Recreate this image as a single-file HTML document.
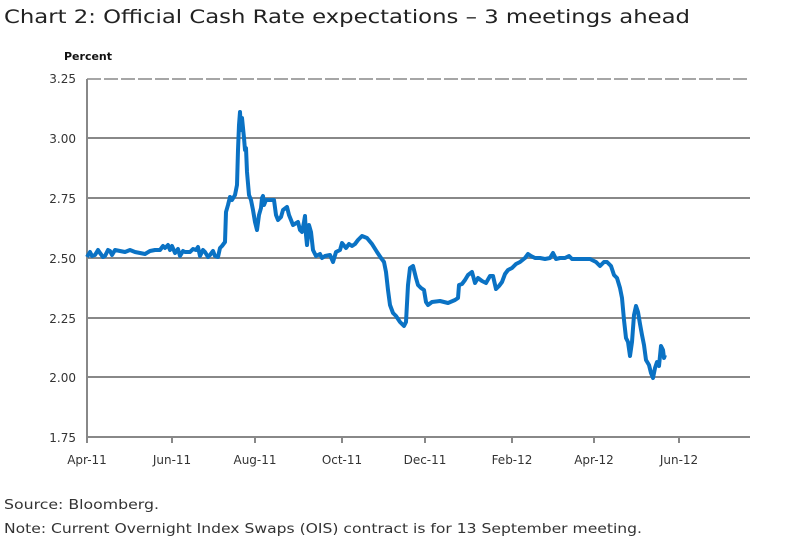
<!DOCTYPE html>
<html><head><meta charset="utf-8"><style>
html,body{margin:0;padding:0;background:#fff;}
svg{display:block;}
</style></head><body>
<svg width="800" height="546" viewBox="0 0 800 546" xmlns="http://www.w3.org/2000/svg">
<text x="4" y="23" font-family="DejaVu Sans, Liberation Sans, sans-serif" font-size="19" fill="#222" textLength="686" lengthAdjust="spacingAndGlyphs">Chart 2:  Official Cash Rate expectations – 3 meetings ahead</text>
<text x="64" y="60" font-family="DejaVu Sans, Liberation Sans, sans-serif" font-size="11" font-weight="bold" fill="#111">Percent</text>
<line x1="87" y1="79" x2="750" y2="79" stroke="#888" stroke-width="1.5" stroke-dasharray="14,3"/>
<g stroke="#888" stroke-width="2">
<line x1="87" y1="138" x2="750" y2="138"/>
<line x1="87" y1="198" x2="750" y2="198"/>
<line x1="87" y1="258" x2="750" y2="258"/>
<line x1="87" y1="318" x2="750" y2="318"/>
<line x1="87" y1="377" x2="750" y2="377"/>
<line x1="87" y1="437" x2="750" y2="437"/>
<line x1="87" y1="79" x2="87" y2="437"/>
<line x1="87" y1="437" x2="87" y2="443"/>
<line x1="172" y1="437" x2="172" y2="443"/>
<line x1="255" y1="437" x2="255" y2="443"/>
<line x1="342" y1="437" x2="342" y2="443"/>
<line x1="425" y1="437" x2="425" y2="443"/>
<line x1="512" y1="437" x2="512" y2="443"/>
<line x1="594" y1="437" x2="594" y2="443"/>
<line x1="679" y1="437" x2="679" y2="443"/>
</g>
<g font-family="DejaVu Sans, Liberation Sans, sans-serif" font-size="12" fill="#333" text-anchor="end">
<text x="76" y="83">3.25</text><text x="76" y="143">3.00</text><text x="76" y="203">2.75</text>
<text x="76" y="263">2.50</text><text x="76" y="323">2.25</text><text x="76" y="382">2.00</text><text x="76" y="442">1.75</text>
</g>
<g font-family="DejaVu Sans, Liberation Sans, sans-serif" font-size="12" fill="#333" text-anchor="middle">
<text x="87" y="464">Apr-11</text><text x="172" y="464">Jun-11</text><text x="255" y="464">Aug-11</text>
<text x="342" y="464">Oct-11</text><text x="425" y="464">Dec-11</text><text x="512" y="464">Feb-12</text>
<text x="594" y="464">Apr-12</text><text x="679" y="464">Jun-12</text>
</g>
<polyline fill="none" stroke="#0a72c4" stroke-width="4" stroke-linejoin="round" points="87,257 90,252 92,256 95,255 98,250 100,253 103,257 105,256 108,250 110,251 112,255 115,250 120,251 125,252 130,250 135,252 140,253 145,254 150,251 155,250 160,250 163,246 165,248 168,245 170,250 172,246 175,253 178,249 180,256 183,251 185,252 190,252 193,249 196,250 198,247 200,256 203,250 205,252 208,257 210,255 213,251 215,256 218,257 220,248 222,246 225,242 226,212 228,205 230,197 232,200 235,195 237,185 238,150 239,125 240,112 241,130 242,118 243,128 244,138 245,150 246,148 247,172 249,195 251,200 253,210 255,222 257,230 259,215 261,208 262,198 263,196 264,205 266,200 268,200 274,200 276,215 278,220 281,217 283,210 287,207 289,215 291,220 293,225 298,222 300,230 302,232 304,222 305,216 306,235 307,245 309,225 311,232 313,250 316,256 320,254 322,258 325,256 330,255 333,262 336,252 340,250 342,243 346,248 349,244 352,246 355,244 358,240 362,236 367,238 372,244 377,252 381,258 384,262 386,272 388,290 390,305 393,313 396,316 400,322 404,326 406,322 408,285 410,268 413,266 416,278 418,285 421,288 424,290 426,302 428,305 432,302 440,301 448,303 455,300 458,298 459,285 462,284 465,280 468,275 472,272 475,283 478,278 482,281 486,283 490,276 493,276 496,289 499,286 502,282 505,274 508,270 512,268 516,264 520,262 525,258 528,254 531,256 535,258 540,258 545,259 550,258 553,253 556,259 560,258 565,258 569,256 572,259 580,259 590,259 596,262 600,266 604,262 607,262 611,266 614,275 617,278 620,288 622,298 624,320 626,338 628,342 630,356 632,342 634,315 636,306 638,312 640,324 642,335 644,345 646,360 649,365 651,373 653,378 655,368 657,362 659,366 661,346 663,350 664,358 665,355"/>
<text x="4" y="509" font-family="DejaVu Sans, Liberation Sans, sans-serif" font-size="13" fill="#333" textLength="155" lengthAdjust="spacingAndGlyphs">Source:  Bloomberg.</text>
<text x="4" y="533" font-family="DejaVu Sans, Liberation Sans, sans-serif" font-size="13" fill="#333" textLength="638" lengthAdjust="spacingAndGlyphs">Note:  Current Overnight Index Swaps (OIS) contract is for 13 September meeting.</text>
</svg>
</body></html>
